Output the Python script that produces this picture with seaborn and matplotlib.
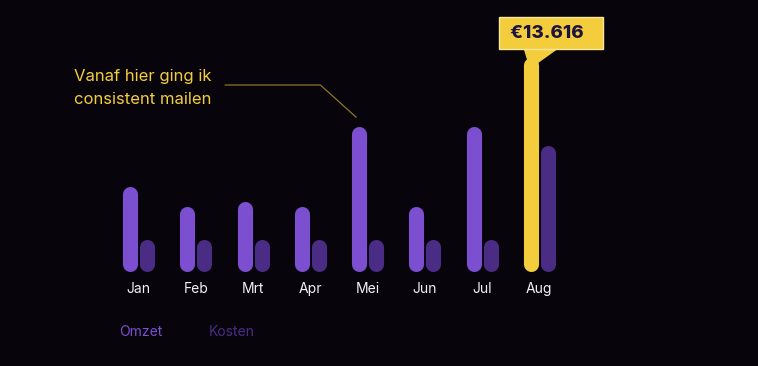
import pandas as pd
import matplotlib.pyplot as plt
import seaborn as sns
import numpy as np

# data
maanden = ["Jan", "Feb", "Mrt", "Apr", "Mei", "Jun", "Jul", "Aug"]
omzet = [5450, 4180, 4500, 4180, 9250, 4180, 9250, 13616]
kosten = [2090, 2090, 2090, 2090, 2090, 2090, 2090, 8040]

BG = "#07040c"
PAARS = "#7b4fcf"
DONKER = "#4b2c85"
GEEL = "#f3cd3c"

df = pd.DataFrame({
    "maand": maanden * 2,
    "bedrag": omzet + kosten,
    "soort": ["Omzet"] * len(maanden) + ["Kosten"] * len(maanden),
})

sns.set_theme(style="dark")
plt.rcParams["font.family"] = ["Inter", "DejaVu Sans"]

fig = plt.figure(figsize=(7.58, 3.66), dpi=100, facecolor=BG)
ax = fig.add_axes([110 / 758, 94 / 366, 458 / 758, 262 / 366])
ax.set_facecolor(BG)

sns.barplot(data=df, x="maand", y="bedrag", hue="soort",
            palette={"Omzet": PAARS, "Kosten": DONKER},
            width=0.6, gap=0.12, ax=ax, saturation=1)

ax.set_xlim(-0.5, 7.5)
ax.set_ylim(0, 16600)

# balken vervangen door pillen (lijnen met ronde uiteinden)
fig.canvas.draw()
bb = ax.get_window_extent()
px_x = bb.width / 8          # pixels per x-eenheid
px_y = bb.height / 16600     # pixels per y-eenheid
rechthoeken = [p for c in ax.containers for p in c]
for i, p in enumerate(rechthoeken):
    x, w, h = p.get_x(), p.get_width(), p.get_height()
    kleur = p.get_facecolor()
    if i == len(maanden) - 1:  # augustus omzet
        kleur = GEEL
    p.set_visible(False)
    breedte_px = w * px_x
    r = (breedte_px / 2) / px_y
    ax.plot([x + w / 2, x + w / 2], [r, h - r], color=kleur,
            lw=breedte_px * 72 / 100, solid_capstyle="round", zorder=3)

ax.set_xlabel("")
ax.set_ylabel("")
ax.set_yticks([])
ax.tick_params(axis="x", colors="#f2f0f5", labelsize=10, length=0, pad=7)
for s in ax.spines.values():
    s.set_visible(False)
ax.grid(False)

# legenda
leg = ax.legend(loc="upper left", bbox_to_anchor=(107 / 758, 54 / 366),
                bbox_transform=fig.transFigure, ncol=2, frameon=False,
                handlelength=0, handletextpad=0, columnspacing=3.3,
                fontsize=10, labelcolor=[PAARS, DONKER])
for h in leg.legend_handles:
    h.set_visible(False)

# annotatie mei
fig.text(74 / 758, 1 - 88 / 366, "Vanaf hier ging ik\nconsistent mailen",
         color=GEEL, fontsize=12, ha="left", va="center", linespacing=1.6)
ax.annotate("", xy=(3.8, omzet[4] * 1.06), xycoords="data",
            xytext=(225 / 758, 1 - 85 / 366), textcoords="figure fraction",
            arrowprops=dict(arrowstyle="-", color="#8a7628", lw=0.9,
                            connectionstyle="angle,angleA=0,angleB=138,rad=0",
                            shrinkA=0, shrinkB=0))

# label augustus
ax.annotate(" €13.616   ", xy=(7 - 0.16, omzet[7] * 0.95), xycoords="data",
            xytext=(15, 25), textcoords="offset points",
            ha="center", va="center", fontsize=13.5, fontweight="heavy",
            color="#1d1340",
            bbox=dict(boxstyle="square,pad=0.38", fc=GEEL, ec="#f8e7a0", lw=1),
            arrowprops=dict(arrowstyle="wedge,tail_width=2.4,shrink_factor=0.5",
                            fc=GEEL, ec=GEEL, relpos=(0.38, 0.2),
                            patchA=None, shrinkA=0, shrinkB=0),
            zorder=5)

fig.savefig("out.png", dpi=100, facecolor=BG)
